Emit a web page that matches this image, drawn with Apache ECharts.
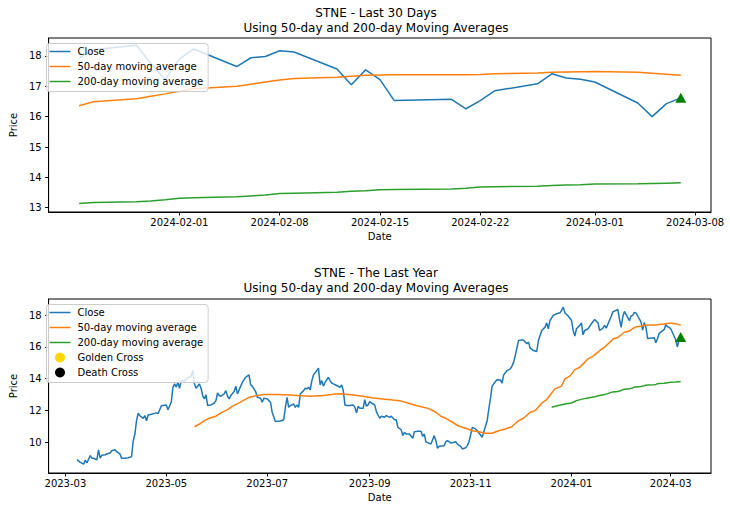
<!DOCTYPE html>
<html><head><meta charset="utf-8">
<script src="https://cdn.jsdelivr.net/npm/echarts@6/dist/echarts.min.js"></script>
<style>html,body{margin:0;padding:0;background:#fff}#c{width:730px;height:511px}</style>
</head><body><div id="c"></div>
<script>
// ---------- Last 30 days (top chart) ----------
const last30Dates = ['2024-01-25','2024-01-26','2024-01-29','2024-01-30','2024-01-31','2024-02-01','2024-02-02',
  '2024-02-05','2024-02-06','2024-02-07','2024-02-08','2024-02-09','2024-02-12','2024-02-13','2024-02-14',
  '2024-02-15','2024-02-16','2024-02-20','2024-02-21','2024-02-22','2024-02-23','2024-02-26','2024-02-27',
  '2024-02-28','2024-02-29','2024-03-01','2024-03-04','2024-03-05','2024-03-06','2024-03-07'];
const last30Close = [17.93,18.20,18.35,17.75,17.22,17.90,18.23,17.65,17.94,17.98,18.17,18.13,17.57,17.05,17.54,
  17.22,16.53,16.57,16.26,16.53,16.85,17.08,17.41,17.27,17.23,17.14,16.45,16.00,16.43,16.62];
const last30Ma50 = [16.36,16.49,16.59,16.67,16.75,16.84,16.92,17.00,17.07,17.14,17.21,17.26,17.30,17.33,17.36,
  17.37,17.38,17.38,17.38,17.39,17.41,17.44,17.46,17.47,17.48,17.49,17.46,17.43,17.40,17.36];
const last30Ma200 = [13.14,13.17,13.20,13.22,13.26,13.31,13.33,13.36,13.39,13.42,13.47,13.48,13.51,13.54,13.56,
  13.59,13.60,13.62,13.64,13.68,13.69,13.71,13.73,13.75,13.76,13.78,13.79,13.80,13.81,13.82];

// ---------- The last year (bottom chart), points before 2024-01-25; last 30 days appended ----------
const yearCloseDates = [
 '2023-03-08','2023-03-10','2023-03-12','2023-03-13','2023-03-14','2023-03-16','2023-03-17','2023-03-18','2023-03-20','2023-03-21','2023-03-22','2023-03-23','2023-03-25','2023-03-26','2023-03-28','2023-03-29','2023-03-31',
 '2023-04-01','2023-04-03','2023-04-04','2023-04-06','2023-04-08','2023-04-10','2023-04-11','2023-04-12','2023-04-13','2023-04-14','2023-04-15','2023-04-17','2023-04-18','2023-04-19','2023-04-20','2023-04-22','2023-04-25','2023-04-26','2023-04-28','2023-04-30',
 '2023-05-01','2023-05-02','2023-05-04','2023-05-05','2023-05-06','2023-05-07','2023-05-08','2023-05-09','2023-05-10','2023-05-12','2023-05-13','2023-05-15','2023-05-16','2023-05-17','2023-05-18','2023-05-19','2023-05-21','2023-05-22','2023-05-23','2023-05-24','2023-05-25','2023-05-26','2023-05-28','2023-05-30','2023-05-31',
 '2023-06-01','2023-06-02','2023-06-03','2023-06-05','2023-06-06','2023-06-07','2023-06-08','2023-06-09','2023-06-11','2023-06-12','2023-06-13','2023-06-15','2023-06-16','2023-06-18','2023-06-20','2023-06-21','2023-06-22','2023-06-24','2023-06-25','2023-06-27','2023-06-28','2023-06-29',
 '2023-07-01','2023-07-03','2023-07-04','2023-07-06','2023-07-07','2023-07-09','2023-07-11','2023-07-12','2023-07-13','2023-07-14','2023-07-15','2023-07-17','2023-07-18','2023-07-19','2023-07-20','2023-07-21','2023-07-23','2023-07-24','2023-07-25','2023-07-26','2023-07-27','2023-07-28','2023-07-29','2023-07-31',
 '2023-08-01','2023-08-02','2023-08-03','2023-08-04','2023-08-05','2023-08-07','2023-08-08','2023-08-09','2023-08-10','2023-08-12','2023-08-14','2023-08-15','2023-08-16','2023-08-17','2023-08-18','2023-08-20','2023-08-22','2023-08-23','2023-08-24','2023-08-25','2023-08-26','2023-08-28','2023-08-29','2023-08-30','2023-08-31',
 '2023-09-01','2023-09-02','2023-09-04','2023-09-05','2023-09-07','2023-09-08','2023-09-10','2023-09-11','2023-09-13','2023-09-14','2023-09-16','2023-09-17','2023-09-18','2023-09-20','2023-09-21','2023-09-22','2023-09-23','2023-09-25','2023-09-27','2023-09-28','2023-09-30',
 '2023-10-02','2023-10-03','2023-10-04','2023-10-05','2023-10-06','2023-10-08','2023-10-10','2023-10-11','2023-10-12','2023-10-13','2023-10-16','2023-10-17','2023-10-18','2023-10-20','2023-10-22','2023-10-23','2023-10-24','2023-10-26','2023-10-27','2023-10-29','2023-10-30','2023-10-31',
 '2023-11-01','2023-11-02','2023-11-04','2023-11-05','2023-11-07','2023-11-08','2023-11-09','2023-11-11','2023-11-12','2023-11-13','2023-11-14','2023-11-16','2023-11-17','2023-11-19','2023-11-20','2023-11-21','2023-11-23','2023-11-25','2023-11-26','2023-11-27','2023-11-28','2023-11-30',
 '2023-12-02','2023-12-03','2023-12-05','2023-12-06','2023-12-07','2023-12-09','2023-12-11','2023-12-12','2023-12-14','2023-12-16','2023-12-17','2023-12-18','2023-12-19','2023-12-21','2023-12-23','2023-12-25','2023-12-26','2023-12-27','2023-12-28','2023-12-30',
 '2024-01-01','2024-01-02','2024-01-03','2024-01-04','2024-01-06','2024-01-07','2024-01-08','2024-01-09','2024-01-11','2024-01-13','2024-01-15','2024-01-17','2024-01-18','2024-01-20','2024-01-21','2024-01-22'];
const yearClose = [
 8.91,8.74,8.63,8.88,8.70,9.16,9.00,9.00,8.90,9.53,9.00,9.18,9.22,9.26,9.33,9.47,9.53,
 9.41,9.26,8.99,9.00,9.03,9.10,10.10,10.52,11.36,11.84,11.67,11.51,11.68,11.36,11.72,11.76,11.85,11.80,12.30,12.33,
 12.34,12.05,12.52,13.46,13.67,13.47,13.78,13.40,13.88,13.84,13.99,14.09,14.16,14.51,13.67,13.40,13.67,13.40,12.94,12.73,12.98,12.31,12.35,12.47,12.62,
 13.10,12.94,12.90,13.04,13.25,12.90,12.73,12.94,13.19,13.53,13.04,13.53,13.78,14.09,14.24,13.61,13.53,13.19,12.83,12.77,12.52,12.77,
 12.73,12.52,11.89,11.30,11.33,11.34,11.42,12.20,12.83,12.20,12.31,12.41,12.20,12.35,12.20,13.04,13.25,13.40,13.36,13.46,13.30,13.88,14.24,14.51,
 14.66,13.61,13.88,13.53,13.78,14.09,13.88,13.73,13.67,13.57,13.46,13.61,13.25,12.35,12.31,12.31,12.35,12.20,11.85,12.27,12.14,12.14,12.68,12.27,12.35,
 12.56,12.47,12.35,11.93,11.51,11.64,11.57,11.68,11.57,11.64,11.42,11.42,10.94,10.79,10.42,10.63,10.52,10.52,10.25,10.67,10.69,
 10.69,10.38,10.52,10.02,9.98,9.89,10.42,10.10,9.62,9.75,9.79,10.04,10.10,9.96,10.00,10.04,9.89,9.75,9.58,9.66,9.79,10.04,
 10.46,10.94,10.84,10.73,10.46,10.31,10.67,11.36,12.10,12.77,13.53,13.82,13.94,13.92,13.72,14.24,14.51,14.62,14.79,15.04,15.46,16.40,
 16.44,16.42,16.19,16.30,15.92,15.77,15.71,16.40,17.03,17.24,17.51,17.14,17.66,17.98,18.08,18.14,18.29,18.50,18.14,17.94,
 17.66,17.03,16.68,17.14,17.35,17.51,16.76,17.03,17.14,17.45,17.72,17.51,17.03,17.18,17.35,17.18];
const yearMa50Dates = ['2023-05-18','2023-05-21','2023-05-24','2023-05-27','2023-05-31','2023-06-03','2023-06-07','2023-06-10',
 '2023-06-14','2023-06-17','2023-06-20','2023-06-25','2023-06-29','2023-07-07','2023-07-15','2023-07-19','2023-07-27','2023-08-04',
 '2023-08-13','2023-08-16','2023-08-22','2023-08-28','2023-09-03','2023-09-09','2023-09-15','2023-09-19','2023-09-24','2023-09-29',
 '2023-10-03','2023-10-07','2023-10-11','2023-10-14','2023-10-17','2023-10-21','2023-10-25','2023-10-29','2023-11-02','2023-11-06',
 '2023-11-10','2023-11-14','2023-11-18','2023-11-22','2023-11-26','2023-11-28','2023-11-30','2023-12-03','2023-12-07','2023-12-10',
 '2023-12-14','2023-12-17','2023-12-20','2023-12-22','2023-12-26','2023-12-28','2023-12-31','2024-01-03','2024-01-06','2024-01-08',
 '2024-01-11','2024-01-14','2024-01-17','2024-01-19','2024-01-21','2024-01-22'];
const yearMa50 = [10.98,11.15,11.36,11.51,11.64,11.85,12.05,12.27,12.48,12.65,12.83,12.94,13.00,13.00,12.98,12.94,12.90,12.94,
 13.05,13.04,12.98,12.90,12.79,12.73,12.66,12.62,12.47,12.31,12.22,12.10,11.89,11.64,11.51,11.26,11.01,10.88,10.73,10.67,
 10.57,10.57,10.73,10.84,10.98,11.18,11.36,11.51,11.89,11.99,12.47,12.68,13.10,13.36,13.53,13.99,14.16,14.57,14.72,14.93,
 15.25,15.42,15.67,15.85,15.98,16.09];
const yearMa200Dates = ['2023-12-20','2023-12-24','2023-12-28','2024-01-01','2024-01-04','2024-01-08','2024-01-11','2024-01-15','2024-01-18','2024-01-21'];
const yearMa200 = [12.20,12.31,12.41,12.47,12.62,12.73,12.79,12.87,12.94,13.00];

// crossover signal marker (green triangle)
const signalDates = ['2024-03-07'];
const signalPrices = [16.62];

// ---------- ticks ----------
const topXTicks = ['2024-02-01','2024-02-08','2024-02-15','2024-02-22','2024-03-01','2024-03-08'];
const topYTicks = [13,14,15,16,17,18];
const bottomXTicks = ['2023-03-01','2023-05-01','2023-07-01','2023-09-01','2023-11-01','2024-01-01','2024-03-01'];
const bottomYTicks = [10,12,14,16,18];
const topXRange = ['2024-01-22T20:53:00Z','2024-03-09T02:38:00Z'];
const topYRange = [12.86, 18.59];
const bottomXRange = ['2023-02-18T20:10:00Z','2024-03-25T08:10:00Z'];
const bottomYRange = [8.07, 19.01];

// ---------- build ----------
const ts = s => Date.parse(s);
const zip = (d, v) => d.map((x, i) => [ts(x), v[i]]);
const pad = n => (n < 10 ? '0' : '') + n;
const fmtDay = v => { const d = new Date(v); return d.getUTCFullYear() + '-' + pad(d.getUTCMonth() + 1) + '-' + pad(d.getUTCDate()); };
const fmtMonth = v => { const d = new Date(v); return d.getUTCFullYear() + '-' + pad(d.getUTCMonth() + 1); };

const FONT = 'DejaVu Sans';
const C_CLOSE = '#1f77b4', C_50 = '#ff7f0e', C_200 = '#2ca02c';
const LINE_ICON = 'path://M0,0H21V1.5H0Z';

function xAxis(gi, range, ticks, fmt) {
  return {
    type: 'value', gridIndex: gi, min: ts(range[0]), max: ts(range[1]),
    name: 'Date', nameLocation: 'middle', nameGap: 19,
    nameTextStyle: { fontSize: 10, color: '#000', fontFamily: FONT },
    axisLine: { show: true, onZero: false, lineStyle: { color: '#000', width: 1 } },
    axisTick: { show: true, length: 3.5, lineStyle: { color: '#000' }, customValues: ticks.map(ts) },
    axisLabel: { show: true, margin: 5, fontSize: 10, color: '#000', fontFamily: FONT, customValues: ticks.map(ts), formatter: fmt },
    splitLine: { show: false }
  };
}
function yAxis(gi, range, ticks) {
  return {
    type: 'value', gridIndex: gi, min: range[0], max: range[1],
    name: 'Price', nameLocation: 'middle', nameGap: 22, nameRotate: 90,
    nameTextStyle: { fontSize: 10, color: '#000', fontFamily: FONT },
    axisLine: { show: true, onZero: false, lineStyle: { color: '#000', width: 1 } },
    axisTick: { show: true, length: 3.5, lineStyle: { color: '#000' }, customValues: ticks },
    axisLabel: { show: true, margin: 7, fontSize: 10, color: '#000', fontFamily: FONT, customValues: ticks },
    splitLine: { show: false }
  };
}
function line(name, color, data, xi) {
  return { type: 'line', name, xAxisIndex: xi, yAxisIndex: xi, data, symbol: 'none', showSymbol: false,
    lineStyle: { color, width: 1.5 }, itemStyle: { color }, animation: false, z: 2 };
}
function legend(top, names) {
  return {
    orient: 'vertical', left: 46.5, top, itemWidth: 21, itemHeight: 10, itemGap: 5, symbolKeepAspect: true,
    padding: [3, 5, 5, 3], backgroundColor: 'rgba(255,255,255,0.8)', borderColor: '#cccccc', borderWidth: 1, borderRadius: 3,
    textStyle: { fontSize: 10, color: '#000', fontFamily: FONT, padding: [0, 0, 0, 2] },
    data: names.map(n => ({ name: n, icon: /Cross/.test(n) ? 'circle' : LINE_ICON })),
    selectedMode: false, z: 10
  };
}
function titleText(y, text) {
  return { type: 'text', x: 376, y, silent: true,
    style: { text, align: 'center', verticalAlign: 'top', fontSize: 12, lineHeight: 15, fontFamily: FONT, fill: '#000' } };
}
function marker(name, data, xi, symbol, size, color) {
  return { type: 'scatter', name, xAxisIndex: xi, yAxisIndex: xi, data, symbol, symbolSize: size,
    itemStyle: { color, opacity: 1 }, z: 5 };
}

const chart = echarts.init(document.getElementById('c'), null, { renderer: 'svg' });
chart.setOption({
  animation: false,
  backgroundColor: '#fff',
  graphic: [
    titleText(5, 'STNE - Last 30 Days\nUsing 50-day and 200-day Moving Averages'),
    titleText(265.5, 'STNE - The Last Year\nUsing 50-day and 200-day Moving Averages')
  ],
  grid: [
    { left: 41, top: 38, width: 670, height: 174, show: true, borderColor: '#000', borderWidth: 1, backgroundColor: 'transparent' },
    { left: 41, top: 299, width: 670, height: 174, show: true, borderColor: '#000', borderWidth: 1, backgroundColor: 'transparent' }
  ],
  xAxis: [xAxis(0, topXRange, topXTicks, fmtDay), xAxis(1, bottomXRange, bottomXTicks, fmtMonth)],
  yAxis: [yAxis(0, topYRange, topYTicks), yAxis(1, bottomYRange, bottomYTicks)],
  legend: [
    legend(43.5, ['Close', '50-day moving average', '200-day moving average']),
    legend(304.5, ['Close', '50-day moving average', '200-day moving average', 'Golden Cross', 'Death Cross'])
  ],
  series: [
    line('Close', C_CLOSE, zip(last30Dates, last30Close), 0),
    line('50-day moving average', C_50, zip(last30Dates, last30Ma50), 0),
    line('200-day moving average', C_200, zip(last30Dates, last30Ma200), 0),
    marker('signal', zip(signalDates, signalPrices), 0, 'triangle', [11, 10], '#008000'),
    line('Close', C_CLOSE, zip(yearCloseDates.concat(last30Dates), yearClose.concat(last30Close)), 1),
    line('50-day moving average', C_50, zip(yearMa50Dates.concat(last30Dates), yearMa50.concat(last30Ma50)), 1),
    line('200-day moving average', C_200, zip(yearMa200Dates.concat(last30Dates), yearMa200.concat(last30Ma200)), 1),
    marker('Golden Cross', [], 1, 'circle', 10, '#FFD700'),
    marker('Death Cross', [], 1, 'circle', 10, '#000000'),
    marker('signal', zip(signalDates, signalPrices), 1, 'triangle', [11, 10], '#008000')
  ]
});
</script></body></html>
